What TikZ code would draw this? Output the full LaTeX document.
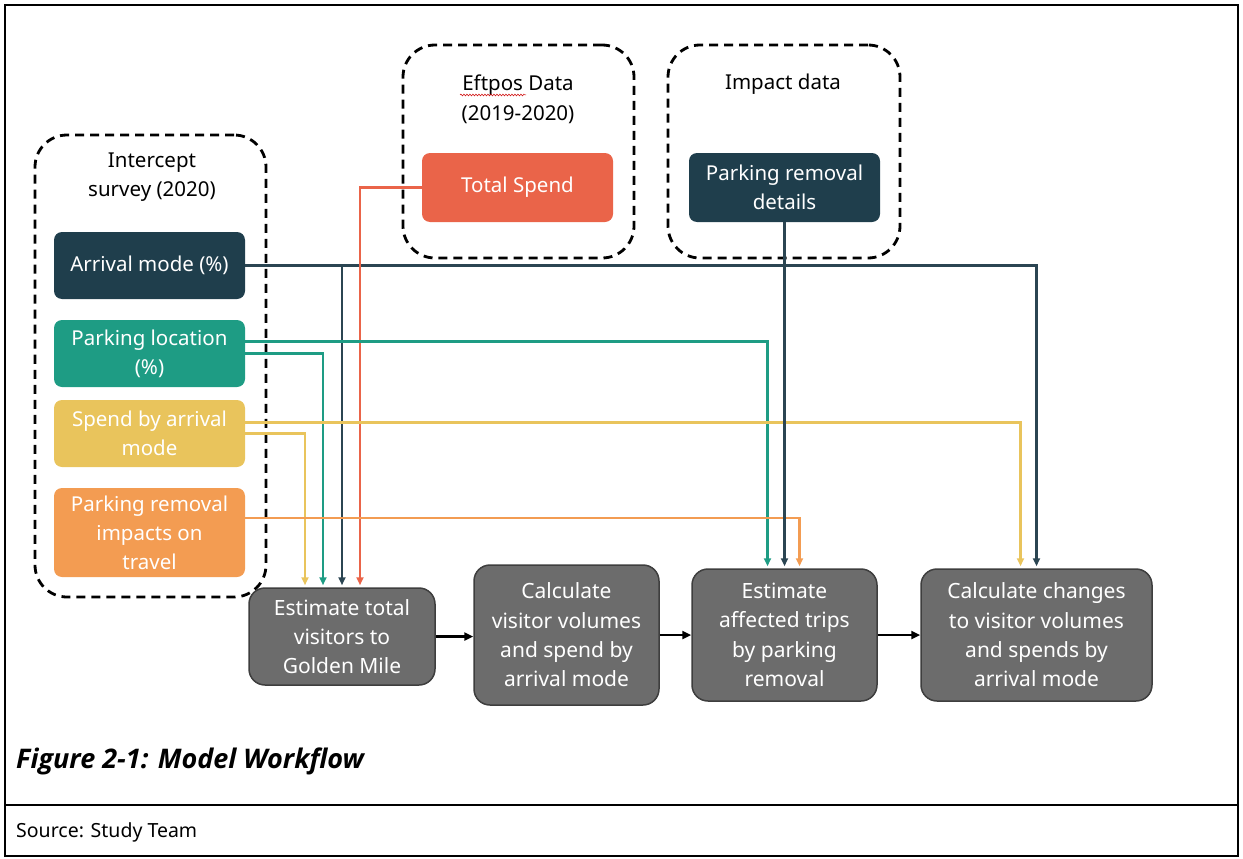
\documentclass[tikz,border=0pt]{standalone}
\usepackage{fontspec}
\setmainfont{Noto Sans}
\newfontfamily\capfont{Open Sans}
\usetikzlibrary{arrows.meta,decorations.pathmorphing}
\definecolor{dk}{HTML}{1F3E4C}
\definecolor{dkline}{HTML}{2B4552}
\definecolor{redc}{HTML}{EA6449}
\definecolor{tealc}{HTML}{1E9C84}
\definecolor{yelc}{HTML}{E9C45C}
\definecolor{orc}{HTML}{F39C52}
\definecolor{gry}{HTML}{6C6C6C}
\definecolor{gryd}{HTML}{3E3E3E}
\begin{document}
\begin{tikzpicture}[x=1pt,y=-1pt,
  cbox/.style={rounded corners=8pt, text=white, align=center, inner sep=0pt,
    font=\fontsize{20.5}{29}\selectfont},
  gbox/.style={rounded corners=16pt, fill=gry, draw=gryd, line width=1.5pt, text=white,
    align=center, inner sep=0pt, font=\fontsize{21}{29.3}\selectfont},
  grp/.style={draw=black, line width=2.8pt, dash pattern=on 9pt off 6pt, rounded corners=32pt,
    inner sep=0pt},
  glabel/.style={align=center, inner sep=0pt, font=\fontsize{20.5}{29.5}\selectfont},
  conn/.style={line width=2.3pt, -{Triangle[length=8pt,width=7pt]}, shorten >=2pt},
  flow/.style={line width=2.4pt, black, -{Triangle[length=9pt,width=8pt]}}
]
\useasboundingbox (0,0) rectangle (1243,859);
% frame
\draw[line width=1.3pt] (5,5) rectangle (1238,856);
\draw[line width=1.1pt] (5,805) -- (1238,805);
% groups
\node[grp, minimum width=231pt, minimum height=462pt] (gint) at (150.5,366) {};
\node[grp, minimum width=231pt, minimum height=213pt] (geft) at (518.5,151.5) {};
\node[grp, minimum width=232pt, minimum height=213pt] (gimp) at (784,151.5) {};
\node[glabel] (lint) at (152,177) {Intercept\\survey (2020)};
\node[glabel] (left) at (518,99.5) {Eftpos Data\\(2019-2020)};
\node[glabel] (limp) at (783,84) {Impact data};
\draw[red!80!black, line width=0.5pt, decorate, decoration={snake, amplitude=0.9pt, segment length=3pt}] (460,95) -- (526,95);
% input boxes
\node[cbox, fill=redc, minimum width=191pt, minimum height=69pt] (tsp) at (517.5,187.5) {Total Spend};
\node[cbox, fill=dk, minimum width=191pt, minimum height=69pt] (prd) at (784.5,187.5) {Parking removal\\details};
\node[cbox, fill=dk, minimum width=191pt, minimum height=67pt] (arr) at (149.5,265.5) {Arrival mode (\%)};
\node[cbox, fill=tealc, minimum width=191pt, minimum height=67pt] (ploc) at (149.5,353.5) {Parking location\\(\%)};
\node[cbox, fill=yelc, minimum width=191pt, minimum height=67pt] (spd) at (149.5,433.5) {Spend by arrival\\mode};
\node[cbox, fill=orc, minimum width=191pt, minimum height=89pt] (imp) at (149.5,532.5) {Parking removal\\impacts on\\travel};
% process boxes
\node[gbox, minimum width=186pt, minimum height=97pt] (est) at (342,636.5) {Estimate total\\visitors to\\Golden Mile};
\node[gbox, minimum width=185pt, minimum height=140pt] (vol) at (566.5,635) {Calculate\\visitor volumes\\and spend by\\arrival mode};
\node[gbox, minimum width=185pt, minimum height=132pt] (aff) at (784.5,635) {Estimate\\affected trips\\by parking\\removal};
\node[gbox, minimum width=231pt, minimum height=132pt] (chg) at (1036.5,635) {Calculate changes\\to visitor volumes\\and spends by\\arrival mode};
% flow
\draw[flow] (est.east) -- (vol.west |- est.east);
\draw[flow] (vol.east) -- (aff.west);
\draw[flow] (aff.east) -- (chg.west);
% connectors
\draw[conn, dkline] (arr.east) -| (chg.north);
\draw[conn, dkline] (arr.east) -| (est.north);
\draw[conn, redc] (tsp.west) -| ([xshift=18pt]est.north);
\draw[conn, tealc] ([yshift=12pt]ploc.east) -| ([xshift=-17pt]aff.north);
\draw[conn, tealc] (ploc.east) -| ([xshift=-19pt]est.north);
\draw[conn, yelc] ([yshift=11pt]spd.east) -| ([xshift=-16pt]chg.north);
\draw[conn, yelc] (spd.east) -| ([xshift=-37pt]est.north);
\draw[conn, orc] ([yshift=14.5pt]imp.east) -| ([xshift=15pt]aff.north);
\draw[conn, dkline] (prd.south) -- (aff.north);
% caption
\node[anchor=west, inner sep=0pt, font=\capfont\bfseries\itshape\fontsize{27}{32}\selectfont] (cap) at (16,761) {Figure 2-1: Model Workflow};
\node[anchor=west, inner sep=0pt, font=\fontsize{19.5}{22}\selectfont] (src) at (16,832) {Source: Study Team};
\end{tikzpicture}
\end{document}
